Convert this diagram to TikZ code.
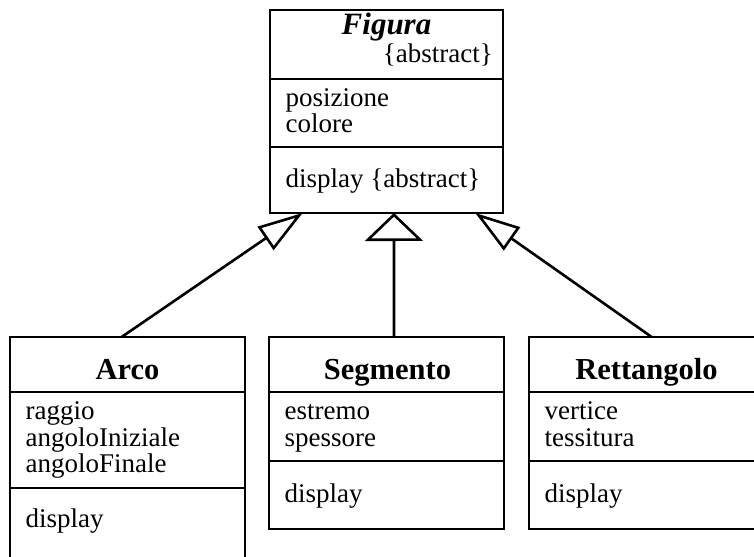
\documentclass[tikz,border=0pt]{standalone}
\usepackage{fontspec}
\setmainfont{Liberation Serif}
\usetikzlibrary{arrows.meta,calc}

\tikzset{
  classbox/.style={draw, line width=2.6bp, rectangle, anchor=north west, inner sep=0pt, outer sep=0pt},
  sep/.style={line width=2.6bp},
  title/.style={font=\fontsize{30.5bp}{32bp}\selectfont\bfseries, anchor=base, inner sep=0pt},
  abstitle/.style={font=\fontsize{31bp}{32bp}\selectfont\bfseries\itshape, anchor=base, inner sep=0pt},
  member/.style={font=\fontsize{27bp}{27bp}\selectfont, anchor=base west, inner sep=0pt},
  prop/.style={font=\fontsize{27bp}{27bp}\selectfont, anchor=base east, inner sep=0pt},
  genlong/.style={line width=2.6bp, -{Triangle[open, length=45bp, width=28bp]}},
  genwide/.style={line width=2.6bp, -{Triangle[open, length=28bp, width=58bp]}},
}

\begin{document}
\begin{tikzpicture}[x=1bp, y=-1bp]
  \useasboundingbox (0,0) rectangle (754,557);
  \clip (0,0) rectangle (754,557);

  % superclass
  \node[classbox, minimum width=233bp, minimum height=203bp] (fig) at (270,10) {};
  \draw[sep] (270,79) -- (503,79);
  \draw[sep] (270,147) -- (503,147);
  \node[abstitle] (figname) at (386.5,35) {Figura};
  \node[prop] (figabs) at (493,63) {\{abstract\}};
  \node[member] (figa1) at (285.5,106.5) {posizione};
  \node[member] (figa2) at (285.5,132.5) {colore};
  \node[member] (figm1) at (285.5,188) {display \{abstract\}};

  % subclass: Arco
  \node[classbox, minimum width=235bp, minimum height=226bp] (arco) at (10,337) {};
  \draw[sep] (10,392) -- (245,392);
  \draw[sep] (10,488) -- (245,488);
  \node[title] (arconame) at (127.5,379) {Arco};
  \node[member] (arcoa1) at (25.5,419.5) {raggio};
  \node[member] (arcoa2) at (25.5,446) {angoloIniziale};
  \node[member] (arcoa3) at (25.5,472.5) {angoloFinale};
  \node[member] (arcom1) at (25.5,527) {display};

  % subclass: Segmento
  \node[classbox, minimum width=235bp, minimum height=192bp] (seg) at (269,337) {};
  \draw[sep] (269,392) -- (504,392);
  \draw[sep] (269,461) -- (504,461);
  \node[title] (segname) at (387.5,379) {Segmento};
  \node[member] (sega1) at (284.5,419.5) {estremo};
  \node[member] (sega2) at (284.5,446) {spessore};
  \node[member] (segm1) at (284.5,502) {display};

  % subclass: Rettangolo
  \node[classbox, minimum width=235bp, minimum height=192bp] (rett) at (529,337) {};
  \draw[sep] (529,392) -- (764,392);
  \draw[sep] (529,461) -- (764,461);
  \node[title] (rettname) at (646.5,379) {Rettangolo};
  \node[member] (retta1) at (544.5,419.5) {vertice};
  \node[member] (retta2) at (544.5,446) {tessitura};
  \node[member] (rettm1) at (544.5,502) {display};

  % generalization links
  \draw[genlong] ($(arco.north west)!0.475!(arco.north east)$) -- ($(fig.south west)!0.140!(fig.south east)$);
  \draw[genwide] ($(seg.north west)!0.532!(seg.north east)$) -- ($(fig.south west)!0.532!(fig.south east)$);
  \draw[genlong] ($(rett.north west)!0.522!(rett.north east)$) -- ($(fig.south west)!0.881!(fig.south east)$);
\end{tikzpicture}
\end{document}
